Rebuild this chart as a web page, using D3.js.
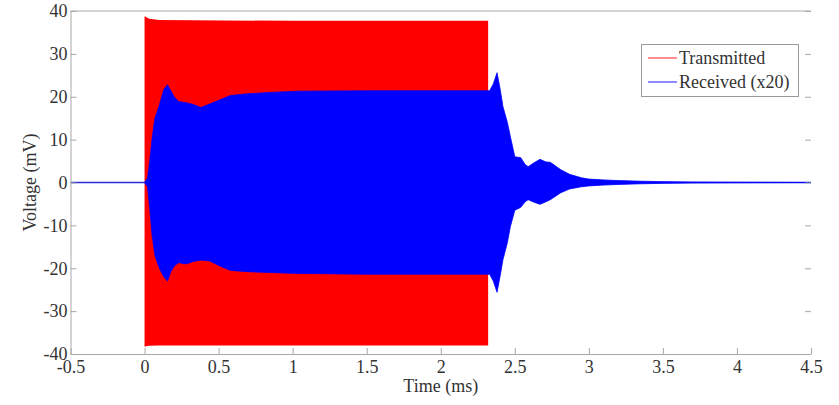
<!DOCTYPE html>
<html>
<head>
<meta charset="utf-8">
<script src="https://cdn.jsdelivr.net/npm/d3@7"></script>
<style>
  html, body { margin: 0; padding: 0; background: #fff; }
  svg { display: block; }
  text { font-family: "Liberation Serif", "Times New Roman", serif; fill: #333; }
</style>
</head>
<body>
<svg id="chart" width="839" height="405"></svg>
<script>
// ---- Data ----
const xTicks = [-0.5, 0, 0.5, 1, 1.5, 2, 2.5, 3, 3.5, 4, 4.5];
const xTickLabels = ["-0.5", "0", "0.5", "1", "1.5", "2", "2.5", "3", "3.5", "4", "4.5"];
const yTicks = [-40, -30, -20, -10, 0, 10, 20, 30, 40];
const yTickLabels = ["-40", "-30", "-20", "-10", "0", "10", "20", "30", "40"];

// Transmitted burst envelope (mV)
const txTime  = [0, 0.01, 0.03, 0.1, 1.0, 2.32];
const txUpper = [38.8, 38.6, 38.2, 37.9, 37.7, 37.7];
const txLower = [-38.3, -38.2, -38.1, -38.0, -38.0, -38.0];

// Received (x20) envelope (mV)
const rxTime  = [0, 0.02, 0.035, 0.05, 0.07, 0.1, 0.13, 0.155, 0.175, 0.2, 0.23, 0.28, 0.33, 0.38, 0.44, 0.51, 0.58, 0.7, 0.84, 1.03, 1.5, 2.0, 2.33, 2.355, 2.38, 2.40, 2.42, 2.45, 2.47, 2.50, 2.54, 2.57, 2.59, 2.63, 2.67, 2.71, 2.74, 2.81, 2.87, 2.95, 3.0, 3.1, 3.2, 3.35, 3.5, 3.7, 4.0, 4.5];
const rxUpper = [0, 1, 5, 10, 15, 18, 21.7, 22.8, 21.5, 20, 18.9, 18.6, 18.2, 17.5, 18.3, 19.3, 20.3, 20.7, 21.0, 21.3, 21.4, 21.4, 21.4, 23, 25.6, 22, 17.7, 14, 10.7, 6, 5.8, 4.2, 3.7, 4.6, 5.4, 4.8, 4.7, 3, 1.9, 1.1, 0.8, 0.6, 0.45, 0.3, 0.2, 0.1, 0.05, 0];
const rxLower = [0, -1, -6, -12, -17, -20, -22, -23, -21, -19.5, -18.7, -19, -18.4, -18.1, -18.3, -19.5, -20.5, -20.8, -21.0, -21.2, -21.4, -21.4, -21.4, -23, -25.6, -22, -18, -14, -10.3, -6.5, -5.8, -4.5, -4, -4.6, -5.1, -4.5, -4, -2.4, -1.5, -1.0, -0.8, -0.6, -0.45, -0.3, -0.2, -0.1, -0.05, 0];

const legendLabels = ["Transmitted", "Received (x20)"];
const seriesColors = ["#ff0000", "#0000ff"];

// ---- Layout ----
const svg = d3.select("#chart");
const m = { left: 71, right: 839 - 811, top: 11, bottom: 405 - 354 };
const W = 839, H = 405;

const x = d3.scaleLinear().domain([-0.5, 4.5]).range([70.5, 811]);
const y = d3.scaleLinear().domain([-40, 40]).range([354, 11]);

const g = svg.append("g");

// Transmitted area
const txData = txTime.map((t, i) => ({ t, u: txUpper[i], l: txLower[i] }));
g.append("path")
  .datum(txData)
  .attr("fill", seriesColors[0])
  .attr("d", d3.area().x(d => x(d.t)).y0(d => y(d.l)).y1(d => y(d.u)));

// zero line (both signals idle)
g.append("line")
  .attr("x1", x(-0.5)).attr("x2", x(4.5))
  .attr("y1", y(0)).attr("y2", y(0))
  .attr("stroke", "#2a2ad8").attr("stroke-width", 1.3);

// Received area
const rxData = rxTime.map((t, i) => ({ t, u: rxUpper[i], l: rxLower[i] }));
g.append("path")
  .datum(rxData)
  .attr("fill", seriesColors[1])
  .attr("stroke", seriesColors[1]).attr("stroke-width", 0.8)
  .attr("d", d3.area().x(d => x(d.t)).y0(d => y(d.l)).y1(d => y(d.u)));

// ---- Axes ----
const axisColor = "#a8a8a8";
const xAxis = d3.axisBottom(x).tickValues(xTicks)
  .tickFormat((d, i) => xTickLabels[i])
  .tickSizeInner(-6).tickSizeOuter(0).tickPadding(6);
const gx = svg.append("g").attr("transform", `translate(0,${y(-40)})`).call(xAxis);

const yAxis = d3.axisLeft(y).tickValues(yTicks)
  .tickFormat((d, i) => yTickLabels[i])
  .tickSizeInner(-6).tickSizeOuter(0).tickPadding(3);
const gy = svg.append("g").attr("transform", `translate(${x(-0.5)},0)`).call(yAxis);

const yAxisR = d3.axisRight(y).tickValues(yTicks).tickFormat("")
  .tickSizeInner(-6).tickSizeOuter(0);
const gyr = svg.append("g").attr("transform", `translate(${x(4.5)},0)`).call(yAxisR);
gyr.select(".domain").remove();

[gx, gy, gyr].forEach(a => {
  a.selectAll(".domain").attr("stroke", axisColor);
  a.selectAll(".tick line").attr("stroke", axisColor);
  a.selectAll("text").attr("font-size", 18).attr("fill", "#333")
    .attr("font-family", '"Liberation Serif", serif');
});

// top border
svg.append("line")
  .attr("x1", x(-0.5)).attr("x2", x(4.5))
  .attr("y1", y(40)).attr("y2", y(40))
  .attr("stroke", axisColor);

// Axis titles
svg.append("text")
  .attr("x", (x(-0.5) + x(4.5)) / 2).attr("y", 392)
  .attr("text-anchor", "middle").attr("font-size", 18)
  .text("Time (ms)");
svg.append("text")
  .attr("transform", `translate(36,${(y(40) + y(-40)) / 2}) rotate(-90)`)
  .attr("text-anchor", "middle").attr("font-size", 18)
  .text("Voltage (mV)");

// ---- Legend ----
const lg = svg.append("g");
lg.append("rect")
  .attr("x", 641.5).attr("y", 44.5).attr("width", 157).attr("height", 52)
  .attr("fill", "#fff").attr("stroke", "#999");
legendLabels.forEach((lab, i) => {
  const cy = 58 + i * 24;
  lg.append("line")
    .attr("x1", 648).attr("x2", 677).attr("y1", cy).attr("y2", cy)
    .attr("stroke", seriesColors[i]).attr("stroke-width", 1.5).attr("stroke-opacity", 0.6);
  lg.append("text")
    .attr("x", 679).attr("y", cy + 6)
    .attr("font-size", 18)
    .text(lab);
});
</script>
</body>
</html>
